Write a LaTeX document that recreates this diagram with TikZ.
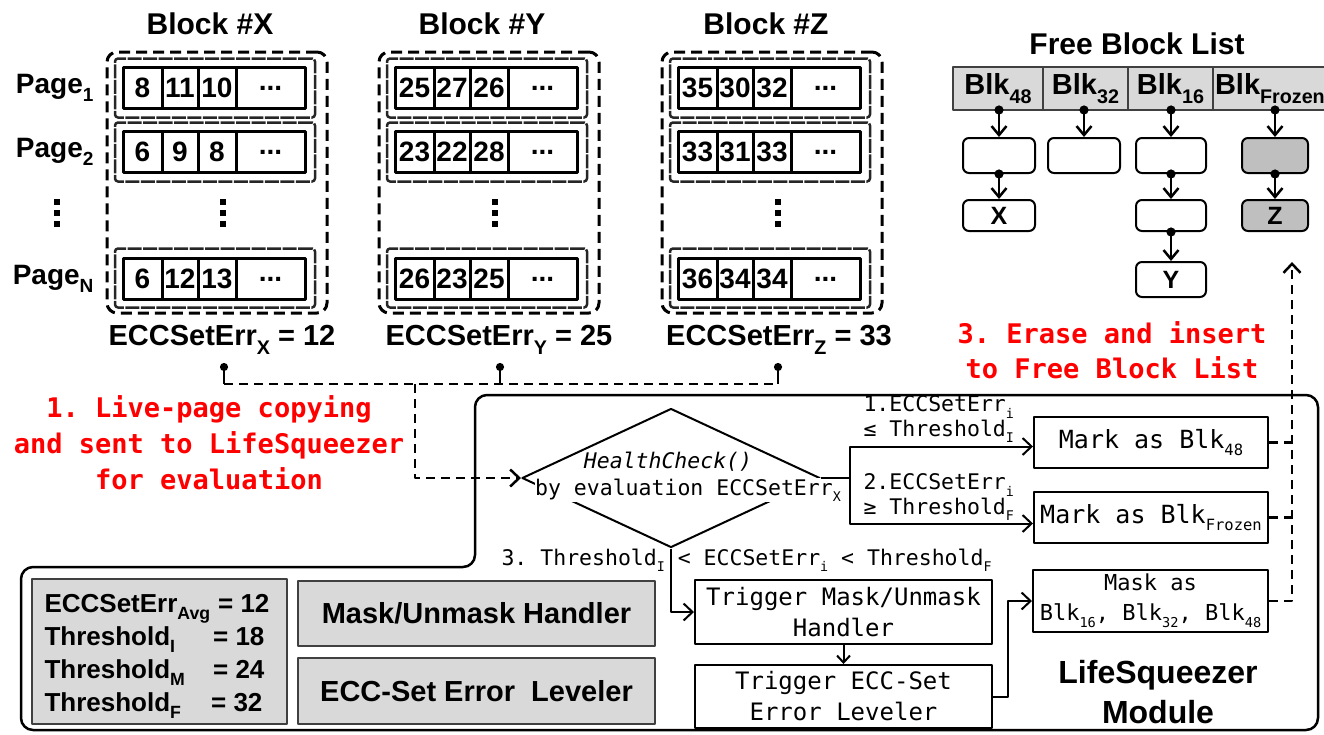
\documentclass[tikz,border=0pt]{standalone}
\usepackage{fontspec}
\setmainfont{Liberation Sans}
\setmonofont{DejaVu Sans Mono}
\usetikzlibrary{arrows.meta,shapes.geometric}
\definecolor{lgray}{HTML}{D9D9D9}
\definecolor{mgray}{HTML}{BFBFBF}
\definecolor{dgray}{HTML}{404040}
\definecolor{redtxt}{HTML}{FF0000}
\newcommand\fsz[2]{\fontsize{#1}{#2}\selectfont}
\newcommand\dn[1]{\raisebox{-0.3em}{\scalebox{0.62}{#1}}}
\newcommand\dnb[1]{\raisebox{-0.3em}{\scalebox{0.68}{#1}}}
\newcommand\prow[6]{%
 \node[cell, minimum width=39pt, anchor=west] (#1a) at (#2,#3) {#4};
 \node[cell, minimum width=36pt, anchor=west] (#1b) at (#1a.east) {#5};
 \node[cell, minimum width=38pt, anchor=west] (#1c) at (#1b.east) {#6};
 \node[cell, minimum width=69pt, anchor=west] (#1d) at (#1c.east) {...};
}
\newcommand\vdq[1]{%
 \fill (#1-3,199) rectangle (#1+3,205);
 \fill (#1-3,210) rectangle (#1+3,216);
 \fill (#1-3,221) rectangle (#1+3,227);
}
\begin{document}
\begin{tikzpicture}[x=1pt, y=-1pt, line join=round,
 blockbox/.style={draw, line width=3pt, dash pattern=on 11pt off 6pt, rounded corners=10pt, minimum width=220pt, minimum height=261pt, inner sep=0},
 pagebox/.style={draw=black!85, line width=2.5pt, dash pattern=on 14pt off 1.5pt, rounded corners=3pt, minimum width=200pt, minimum height=59pt, inner sep=0},
 cell/.style={draw, line width=3pt, minimum height=41pt, inner sep=0, outer sep=0, font=\fsz{28}{30}\bfseries},
 blktitle/.style={font=\fsz{30}{34}\bfseries},
 errlabel/.style={font=\fsz{29}{34}\bfseries},
 pagelabel/.style={font=\fsz{28}{30}\bfseries, anchor=east},
 redlbl/.style={text=redtxt, font=\fsz{27}{36}\ttfamily\bfseries, align=center},
 flowbox/.style={draw, line width=2pt, inner sep=0, font=\fsz{24}{31}\ttfamily, align=center},
 mono21/.style={font=\fsz{21.5}{24}\ttfamily},
 flow/.style={line width=2pt, -{Straight Barb[length=9pt,width=17pt]}},
 dashflow/.style={line width=2.5pt, dash pattern=on 9pt off 6pt},
 listcell/.style={draw=dgray, fill=lgray, line width=2pt, minimum height=43pt, inner sep=0, outer sep=0, font=\fsz{29}{30}\bfseries},
 listbox/.style={draw, line width=2pt, rounded corners=6pt, inner sep=0, font=\fsz{25}{28}\bfseries},
 listarrow/.style={line width=2.5pt, shorten <=-4.5pt, {Circle[length=9pt]}-{Straight Barb[length=9pt,width=15pt]}},
 graybox/.style={draw=dgray, fill=lgray, line width=2pt, inner sep=0},
 boxtext/.style={font=\fsz{26}{30}\bfseries}]
\useasboundingbox (0,0) rectangle (1324,734);

% ---------- Blocks ----------
\node[blktitle] (TX) at (210,24) {Block \#X};
\node[blktitle] (TY) at (482,24) {Block \#Y};
\node[blktitle] (TZ) at (766,24) {Block \#Z};

\node[blockbox] (BX) at (217,182.5) {};
\node[blockbox] (BY) at (489,182.5) {};
\node[blockbox] (BZ) at (772,182.5) {};

\node[pagebox] (PX1) at (215,88) {};
\node[pagebox] (PX2) at (215,152) {};
\node[pagebox] (PXN) at (215,278) {};
\node[pagebox] (PY1) at (487,88) {};
\node[pagebox] (PY2) at (487,152) {};
\node[pagebox] (PYN) at (487,278) {};
\node[pagebox] (PZ1) at (770,88) {};
\node[pagebox] (PZ2) at (770,152) {};
\node[pagebox] (PZN) at (770,278) {};

\prow{RX1}{123}{88}{8}{11}{10}
\prow{RX2}{123}{152}{6}{9}{8}
\prow{RXN}{123}{279}{6}{12}{13}
\prow{RY1}{395}{88}{25}{27}{26}
\prow{RY2}{395}{152}{23}{22}{28}
\prow{RYN}{395}{279}{26}{23}{25}
\prow{RZ1}{678}{88}{35}{30}{32}
\prow{RZ2}{678}{152}{33}{31}{33}
\prow{RZN}{678}{279}{36}{34}{34}

\vdq{57}
\vdq{223}
\vdq{495}
\vdq{778}

\node[pagelabel] (L1) at (97,88) {Page\dnb{1}};
\node[pagelabel] (L2) at (97,152) {Page\dnb{2}};
\node[pagelabel] (LN) at (97,279) {Page\dnb{N}};

\node[errlabel] (EX) at (222,340) {ECCSetErr\dnb{X} = 12};
\node[errlabel] (EY) at (499,340) {ECCSetErr\dnb{Y} = 25};
\node[errlabel] (EZ) at (779,340) {ECCSetErr\dnb{Z} = 33};

\coordinate (tX) at (224,363);
\coordinate (pX) at (224,384);
\coordinate (tY) at (500,363);
\coordinate (pY) at (500,384);
\coordinate (tZ) at (778,363);
\coordinate (pZ) at (778,384);
\coordinate (jn) at (415,384);

% ---------- Free block list ----------
\node[font=\fsz{30}{32}\bfseries] (FBL) at (1137,44) {Free Block List};
\node[listcell, minimum width=90pt, anchor=north west] (c1) at (953,67) {Blk\dnb{48}};
\node[listcell, minimum width=85pt, anchor=north west] (c2) at (1043,67) {Blk\dnb{32}};
\node[listcell, minimum width=85pt, anchor=north west] (c3) at (1128,67) {Blk\dnb{16}};
\node[listcell, text width=124pt, align=left, inner xsep=2pt, anchor=north west] (c4) at (1213,67) {Blk\dnb{Frozen}};

\node[listbox, minimum width=72pt, minimum height=35pt] (b1) at (999,155.5) {};
\node[listbox, minimum width=72pt, minimum height=35pt] (b2) at (1084,155.5) {};
\node[listbox, minimum width=70pt, minimum height=35pt] (b3) at (1171,155.5) {};
\node[listbox, minimum width=66pt, minimum height=35pt, fill=mgray] (b4) at (1275,155.5) {};
\node[listbox, minimum width=72pt, minimum height=31pt] (X) at (999,215.5) {X};
\node[listbox, minimum width=70pt, minimum height=31pt] (e3) at (1171,215.5) {};
\node[listbox, minimum width=66pt, minimum height=31pt, fill=mgray] (Z) at (1275,215.5) {Z};
\node[listbox, minimum width=70pt, minimum height=35pt] (Y) at (1171,279.5) {Y};

\draw[listarrow] (b1.north |- c1.south) -- (b1.north);
\draw[listarrow] (b2.north |- c2.south) -- (b2.north);
\draw[listarrow] (b3.north |- c3.south) -- (b3.north);
\draw[listarrow] (b4.north |- c4.south) -- (b4.north);
\draw[listarrow] (b1.south) -- (X.north);
\draw[listarrow] (b3.south) -- (e3.north);
\draw[listarrow] (e3.south) -- (Y.north);
\draw[listarrow] (b4.south) -- (Z.north);

% ---------- Red annotations ----------
\node[redlbl] (R1) at (209,443) {1. Live-page copying\\and sent to LifeSqueezer\\for evaluation};
\node[redlbl, font=\fsz{27}{35}\ttfamily\bfseries] (R3) at (1112,350) {3. Erase and insert\\to Free Block List};

% ---------- LifeSqueezer module frame ----------
\draw[line width=2.5pt, rounded corners=12pt] (21,730) -- (21,567) -- (475,567) -- (475,395) -- (1318,395) -- (1318,730) -- cycle;

% ---------- Flowchart ----------
\node[diamond, draw, line width=2pt, minimum width=298pt, minimum height=139pt, inner sep=0] (hc) at (671,478) {};
\node[mono21, font=\fsz{21.5}{24}\ttfamily\itshape] (hct) at (668,462) {HealthCheck()};
\node[mono21, fill=white, inner sep=0.5pt] (hcb) at (688,490) {by evaluation ECCSetErr\dn{X}};

\node[flowbox, minimum width=234pt, minimum height=51pt, font=\fsz{25}{30}\ttfamily] (b48) at (1151,442.5) {Mark as Blk\dn{48}};
\node[flowbox, minimum width=234pt, minimum height=51pt, font=\fsz{25}{30}\ttfamily] (bfz) at (1151,517.5) {Mark as Blk\dn{Frozen}};
\node[flowbox, minimum width=297pt, minimum height=64pt] (tm) at (843.5,612) {Trigger Mask/Unmask\\Handler};
\node[flowbox, minimum width=297pt, minimum height=63pt] (tl) at (843.5,696.5) {Trigger ECC-Set\\Error Leveler};
\node[flowbox, minimum width=235pt, minimum height=62pt, font=\fsz{22}{30}\ttfamily] (mk) at (1150.5,601) {Mask as\\Blk\dn{16}, Blk\dn{32}, Blk\dn{48}};

\node[mono21, anchor=west] (a1) at (860,407) {1.ECCSetErr\dn{i}};
\node[mono21, anchor=west] (a2) at (860,431) {≤ Threshold\dn{I}};
\node[mono21, anchor=west] (a3) at (860,485) {2.ECCSetErr\dn{i}};
\node[mono21, anchor=west] (a4) at (860,509) {≥ Threshold\dn{F}};
\node[mono21, anchor=west] (a5) at (498,560) {3. Threshold\dn{I} < ECCSetErr\dn{i} < Threshold\dn{F}};

\coordinate (fk) at (850,478);
\draw[line width=2pt] (hc.east) -- (fk);
\draw[flow] (fk) |- ([yshift=-4pt]b48.west);
\draw[flow] (fk) |- ([yshift=-6pt]bfz.west);
\draw[flow] (hc.south) |- (tm.west);
\draw[flow, -{Straight Barb[length=7pt,width=13pt]}] (tm.south) -- (tl.north);
\draw[flow] (tl.east) -- ++(15,0) |- (mk.west);

% ---------- dashed evaluation path ----------
\draw[line width=2.5pt, {Circle[length=8pt]}-] (tX) -- (pX);
\draw[line width=2.5pt, {Circle[length=8pt]}-] (tY) -- (pY);
\draw[line width=2.5pt, {Circle[length=8pt]}-] (tZ) -- (pZ);
\draw[dashflow] (pX) -- (pZ);
\draw[dashflow, -{Straight Barb[length=9pt,width=17pt]}] (jn) |- (hc.west);

% ---------- dashed insert path ----------
\coordinate (rt) at (1292,262);
\draw[dashflow] (b48.east) -- (b48.east -| rt);
\draw[dashflow] (bfz.east) -- (bfz.east -| rt);
\draw[dashflow, -{Straight Barb[length=9pt,width=17pt]}] (mk.east) -| (rt);

% ---------- bottom-left components ----------
\node[graybox, minimum width=255pt, minimum height=145pt] (gb) at (159.5,651.5) {};
\node[boxtext, anchor=base west] (g1) at (41,612) {ECCSetErr\dnb{Avg}};
\node[boxtext, anchor=base west] (g2) at (41,645) {Threshold\dnb{I}};
\node[boxtext, anchor=base west] (g3) at (41,678) {Threshold\dnb{M}};
\node[boxtext, anchor=base west] (g4) at (41,711) {Threshold\dnb{F}};
\node[boxtext, anchor=base east] (v1) at (273,612) {= 12};
\node[boxtext, anchor=base east] (v2) at (268,645) {= 18};
\node[boxtext, anchor=base east] (v3) at (268,678) {= 24};
\node[boxtext, anchor=base east] (v4) at (266,711) {= 32};

\node[graybox, minimum width=357pt, minimum height=65pt, font=\fsz{29}{32}\bfseries] (mh) at (476.5,613.5) {Mask/Unmask Handler};
\node[graybox, minimum width=357pt, minimum height=66pt, font=\fsz{29}{32}\bfseries] (lv) at (476.5,691) {ECC-Set Error\ \ Leveler};

\node[font=\fsz{32}{40}\bfseries, align=center] (lsm) at (1158,692) {LifeSqueezer\\Module};
\end{tikzpicture}
\end{document}
